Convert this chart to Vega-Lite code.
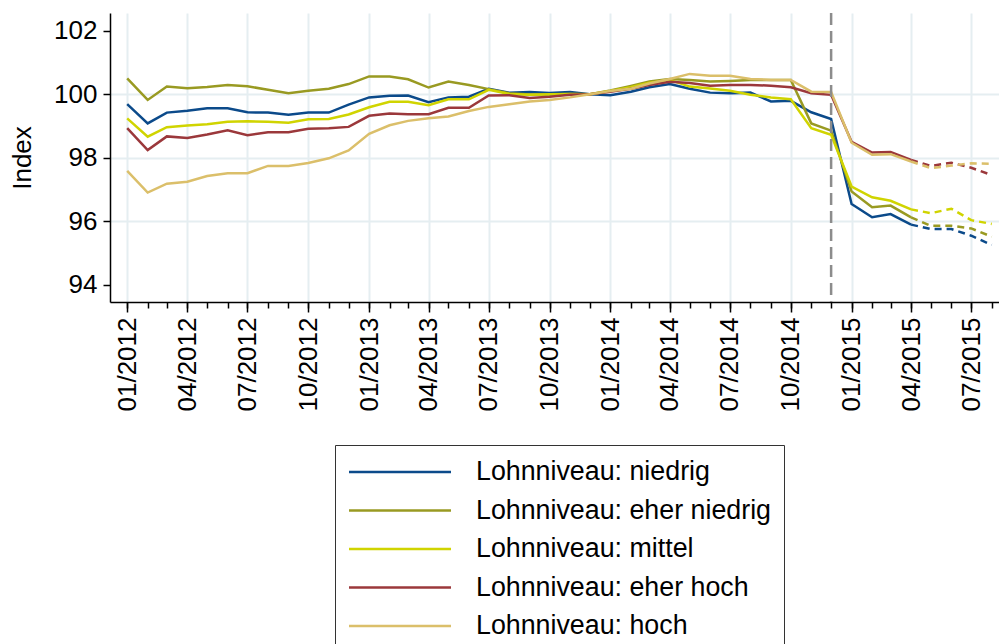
{
  "$schema": "https://vega.github.io/schema/vega-lite/v6.json",
  "width": 889,
  "height": 289,
  "autosize": "none",
  "padding": {"left": 110, "top": 13, "right": 0, "bottom": 342},
  "background": "white",
  "config": {
    "view": {"stroke": null},
    "font": "Liberation Sans",
    "axis": {
      "domainColor": "#000000",
      "domainWidth": 1.5,
      "tickColor": "#000000",
      "tickWidth": 1.5,
      "labelColor": "#000000",
      "labelFontSize": 26,
      "titleFontSize": 26,
      "titleFontWeight": "normal",
      "titleColor": "#000000",
      "gridColor": "#e5eef1",
      "gridWidth": 2
    },
    "legend": {
      "labelFont": "Liberation Sans"
    }
  },
  "data": {
    "values": [
      {"m": "2012-01-01", "niedrig": 99.69, "eher niedrig": 100.50, "mittel": 99.24, "eher hoch": 98.93, "hoch": 97.58},
      {"m": "2012-02-01", "niedrig": 99.08, "eher niedrig": 99.82, "mittel": 98.66, "eher hoch": 98.24, "hoch": 96.90},
      {"m": "2012-03-01", "niedrig": 99.42, "eher niedrig": 100.24, "mittel": 98.96, "eher hoch": 98.67, "hoch": 97.18},
      {"m": "2012-04-01", "niedrig": 99.48, "eher niedrig": 100.19, "mittel": 99.01, "eher hoch": 98.62, "hoch": 97.24},
      {"m": "2012-05-01", "niedrig": 99.56, "eher niedrig": 100.23, "mittel": 99.05, "eher hoch": 98.73, "hoch": 97.42},
      {"m": "2012-06-01", "niedrig": 99.56, "eher niedrig": 100.29, "mittel": 99.13, "eher hoch": 98.86, "hoch": 97.51},
      {"m": "2012-07-01", "niedrig": 99.43, "eher niedrig": 100.25, "mittel": 99.15, "eher hoch": 98.71, "hoch": 97.51},
      {"m": "2012-08-01", "niedrig": 99.42, "eher niedrig": 100.14, "mittel": 99.13, "eher hoch": 98.80, "hoch": 97.74},
      {"m": "2012-09-01", "niedrig": 99.35, "eher niedrig": 100.03, "mittel": 99.10, "eher hoch": 98.80, "hoch": 97.74},
      {"m": "2012-10-01", "niedrig": 99.42, "eher niedrig": 100.11, "mittel": 99.21, "eher hoch": 98.91, "hoch": 97.83},
      {"m": "2012-11-01", "niedrig": 99.42, "eher niedrig": 100.17, "mittel": 99.22, "eher hoch": 98.93, "hoch": 97.98},
      {"m": "2012-12-01", "niedrig": 99.67, "eher niedrig": 100.32, "mittel": 99.36, "eher hoch": 98.97, "hoch": 98.23},
      {"m": "2013-01-01", "niedrig": 99.90, "eher niedrig": 100.56, "mittel": 99.59, "eher hoch": 99.32, "hoch": 98.75},
      {"m": "2013-02-01", "niedrig": 99.95, "eher niedrig": 100.56, "mittel": 99.76, "eher hoch": 99.39, "hoch": 99.02},
      {"m": "2013-03-01", "niedrig": 99.96, "eher niedrig": 100.47, "mittel": 99.76, "eher hoch": 99.37, "hoch": 99.16},
      {"m": "2013-04-01", "niedrig": 99.75, "eher niedrig": 100.21, "mittel": 99.65, "eher hoch": 99.37, "hoch": 99.24},
      {"m": "2013-05-01", "niedrig": 99.90, "eher niedrig": 100.40, "mittel": 99.84, "eher hoch": 99.57, "hoch": 99.30},
      {"m": "2013-06-01", "niedrig": 99.92, "eher niedrig": 100.29, "mittel": 99.84, "eher hoch": 99.57, "hoch": 99.47},
      {"m": "2013-07-01", "niedrig": 100.17, "eher niedrig": 100.16, "mittel": 100.14, "eher hoch": 99.96, "hoch": 99.60},
      {"m": "2013-08-01", "niedrig": 100.05, "eher niedrig": 100.03, "mittel": 100.01, "eher hoch": 99.97, "hoch": 99.68},
      {"m": "2013-09-01", "niedrig": 100.07, "eher niedrig": 99.99, "mittel": 99.98, "eher hoch": 99.88, "hoch": 99.77},
      {"m": "2013-10-01", "niedrig": 100.04, "eher niedrig": 99.99, "mittel": 100.00, "eher hoch": 99.92, "hoch": 99.82},
      {"m": "2013-11-01", "niedrig": 100.07, "eher niedrig": 100.01, "mittel": 100.01, "eher hoch": 99.98, "hoch": 99.90},
      {"m": "2013-12-01", "niedrig": 100.00, "eher niedrig": 100.00, "mittel": 100.00, "eher hoch": 100.00, "hoch": 100.00},
      {"m": "2014-01-01", "niedrig": 99.97, "eher niedrig": 100.12, "mittel": 100.10, "eher hoch": 100.08, "hoch": 100.10},
      {"m": "2014-02-01", "niedrig": 100.08, "eher niedrig": 100.26, "mittel": 100.22, "eher hoch": 100.17, "hoch": 100.17},
      {"m": "2014-03-01", "niedrig": 100.22, "eher niedrig": 100.40, "mittel": 100.36, "eher hoch": 100.29, "hoch": 100.34},
      {"m": "2014-04-01", "niedrig": 100.32, "eher niedrig": 100.48, "mittel": 100.45, "eher hoch": 100.39, "hoch": 100.48},
      {"m": "2014-05-01", "niedrig": 100.17, "eher niedrig": 100.45, "mittel": 100.24, "eher hoch": 100.35, "hoch": 100.64},
      {"m": "2014-06-01", "niedrig": 100.05, "eher niedrig": 100.40, "mittel": 100.18, "eher hoch": 100.27, "hoch": 100.58},
      {"m": "2014-07-01", "niedrig": 100.03, "eher niedrig": 100.42, "mittel": 100.11, "eher hoch": 100.29, "hoch": 100.58},
      {"m": "2014-08-01", "niedrig": 100.05, "eher niedrig": 100.45, "mittel": 99.98, "eher hoch": 100.29, "hoch": 100.48},
      {"m": "2014-09-01", "niedrig": 99.77, "eher niedrig": 100.45, "mittel": 99.90, "eher hoch": 100.27, "hoch": 100.45},
      {"m": "2014-10-01", "niedrig": 99.79, "eher niedrig": 100.45, "mittel": 99.84, "eher hoch": 100.22, "hoch": 100.45},
      {"m": "2014-11-01", "niedrig": 99.43, "eher niedrig": 99.08, "mittel": 98.93, "eher hoch": 100.03, "hoch": 100.08},
      {"m": "2014-12-01", "niedrig": 99.22, "eher niedrig": 98.85, "mittel": 98.72, "eher hoch": 99.98, "hoch": 100.07},
      {"m": "2015-01-01", "niedrig": 96.54, "eher niedrig": 96.93, "mittel": 97.09, "eher hoch": 98.50, "hoch": 98.47},
      {"m": "2015-02-01", "niedrig": 96.12, "eher niedrig": 96.44, "mittel": 96.75, "eher hoch": 98.16, "hoch": 98.09},
      {"m": "2015-03-01", "niedrig": 96.22, "eher niedrig": 96.49, "mittel": 96.64, "eher hoch": 98.18, "hoch": 98.11},
      {"m": "2015-04-01", "niedrig": 95.89, "eher niedrig": 96.12, "mittel": 96.37, "eher hoch": 97.93, "hoch": 97.88},
      {"m": "2015-05-01", "niedrig": 95.75, "eher niedrig": 95.85, "mittel": 96.25, "eher hoch": 97.74, "hoch": 97.67},
      {"m": "2015-06-01", "niedrig": 95.75, "eher niedrig": 95.85, "mittel": 96.39, "eher hoch": 97.84, "hoch": 97.75},
      {"m": "2015-07-01", "niedrig": 95.54, "eher niedrig": 95.77, "mittel": 96.03, "eher hoch": 97.68, "hoch": 97.82},
      {"m": "2015-08-01", "niedrig": 95.25, "eher niedrig": 95.51, "mittel": 95.91, "eher hoch": 97.45, "hoch": 97.81}
    ]
  },
  "resolve": {"axis": {"x": "independent"}},
  "layer": [
    {
      "transform": [
        {"fold": ["niedrig", "eher niedrig", "mittel", "eher hoch", "hoch"], "as": ["Lohnniveau", "Index"]},
        {"filter": {"field": "m", "lte": {"year": 2015, "month": 4, "date": 1, "utc": true}}}
      ],
      "mark": {"type": "line", "strokeWidth": 2.5, "interpolate": "linear"},
      "encoding": {
        "x": {
          "field": "m",
          "type": "temporal",
          "scale": {"type": "utc", "domain": [{"year": 2011, "month": 12, "date": 6, "utc": true}, {"year": 2015, "month": 8, "date": 12, "utc": true}]},
          "axis": {
            "orient": "bottom",
            "title": null,
            "labelExpr": "utcFormat(datum.value, '%m/%Y')",
            "tickCount": {"interval": "month", "step": 3},
            "labelAngle": 270,
            "labelAlign": "right",
            "labelBaseline": "middle",
            "labelPadding": 5,
            "labelOverlap": false,
            "labelFlush": false,
            "labelBound": false,
            "tickSize": 10,
            "grid": true
          }
        },
        "y": {
          "field": "Index",
          "type": "quantitative",
          "scale": {"domain": [93.45, 102.56], "nice": false, "zero": false},
          "axis": {
            "title": "Index",
            "values": [94, 96, 98, 100, 102],
            "tickSize": 7,
            "labelPadding": 6,
            "titlePadding": 18,
            "grid": true,
            "gridOpacity": {"condition": {"test": "datum.value == 94 || datum.value == 102", "value": 0}, "value": 1}
          }
        },
        "color": {
          "field": "Lohnniveau",
          "type": "nominal",
          "scale": {
            "domain": ["niedrig", "eher niedrig", "mittel", "eher hoch", "hoch"],
            "range": ["#0b4a8a", "#999a22", "#d0d400", "#9b383b", "#dbbf6a"]
          },
          "legend": {
            "orient": "none",
            "legendX": 225,
            "legendY": 432,
            "direction": "vertical",
            "title": null,
            "labelExpr": "'Lohnniveau: ' + datum.label",
            "labelFontSize": 26.8,
            "labelLimit": 500,
            "labelColor": "#000000",
            "symbolType": "M-4,0H4",
            "symbolSize": 650,
            "symbolStrokeWidth": 2.5,
            "symbolOffset": 38,
            "labelOffset": 62,
            "rowPadding": 10.5,
            "padding": 13,
            "strokeColor": "#333333",
            "cornerRadius": 0,
            "fillColor": "white"
          }
        }
      }
    },
    {
      "transform": [
        {"fold": ["niedrig", "eher niedrig", "mittel", "eher hoch", "hoch"], "as": ["Lohnniveau", "Index"]},
        {"filter": {"field": "m", "gte": {"year": 2015, "month": 4, "date": 1, "utc": true}}}
      ],
      "mark": {"type": "line", "strokeWidth": 2.5, "strokeDash": [7, 5]},
      "encoding": {
        "x": {
          "field": "m",
          "type": "temporal",
          "axis": {
            "orient": "bottom",
            "title": null,
            "labels": false,
            "grid": false,
            "domain": false,
            "tickCount": {"interval": "month", "step": 1},
            "tickSize": 6
          }
        },
        "y": {"field": "Index", "type": "quantitative"},
        "color": {"field": "Lohnniveau", "type": "nominal"}
      }
    },
    {
      "data": {"values": [{"m": "2014-12-01"}]},
      "mark": {"type": "rule", "color": "#8c8c8c", "strokeWidth": 2.5, "strokeDash": [12, 6]},
      "encoding": {
        "x": {"field": "m", "type": "temporal", "axis": null}
      }
    }
  ]
}
